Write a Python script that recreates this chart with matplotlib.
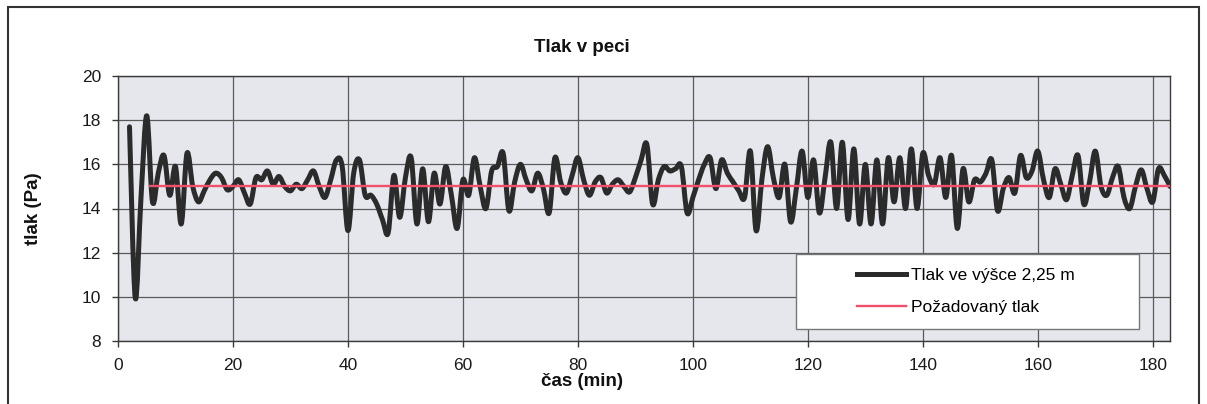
import numpy as np
import matplotlib
matplotlib.use("Agg")
import matplotlib.pyplot as plt
from matplotlib.path import Path
from matplotlib.patches import PathPatch, Rectangle
from matplotlib.lines import Line2D

# ---- data ----
time_min = list(range(2, 184))
pressure = [
    17.7, 9.95, 14.5, 18.2, 14.3, 15.6, 16.4, 14.6, 15.9, 13.3,          # 2-11
    16.5, 15.0, 14.3, 14.8, 15.3, 15.6, 15.4, 14.85, 15.0, 15.3,         # 12-21
    14.7, 14.2, 15.4, 15.3, 15.7, 15.1, 15.45, 15.0, 14.8, 15.1,         # 22-31
    14.9, 15.3, 15.7, 15.0, 14.5, 15.3, 16.2, 15.9, 13.0, 15.6,          # 32-41
    16.2, 14.6, 14.6, 14.2, 13.5, 12.9, 15.5, 13.6, 15.4, 16.3,          # 42-51
    13.3, 15.8, 13.4, 15.6, 14.2, 15.9, 14.6, 13.1, 15.3, 14.6,          # 52-61
    16.3, 15.0, 14.0, 15.7, 15.9, 16.5, 13.9, 15.2, 16.0, 15.3,          # 62-71
    14.8, 15.6, 14.9, 13.8, 16.3, 15.2, 14.7, 15.5, 16.3, 15.3,          # 72-81
    14.6, 15.2, 15.4, 14.7, 15.1, 15.3, 15.0, 14.75, 15.4, 16.2,         # 82-91
    16.9, 14.2, 15.3, 15.9, 15.7, 15.8, 15.9, 13.8, 14.5, 15.3,          # 92-101
    16.0, 16.3, 14.9, 16.2, 15.6, 15.2, 14.8, 14.5, 16.6, 13.0,          # 102-111
    15.3, 16.8, 15.4, 14.5, 16.0, 13.4, 14.9, 16.6, 14.5, 16.2,          # 112-121
    13.8, 15.4, 17.0, 14.0, 17.0, 13.5, 16.7, 13.3, 16.0, 13.3,          # 122-131
    16.2, 13.3, 16.3, 14.3, 16.3, 14.0, 16.7, 14.0, 16.5, 15.5,          # 132-141
    15.1, 16.3, 14.5, 16.4, 13.1, 15.8, 14.3, 15.3, 15.2, 15.6,          # 142-151
    16.2, 13.9, 14.9, 15.4, 14.7, 16.4, 15.4, 15.7, 16.6, 15.3,          # 152-161
    14.5, 15.8, 15.1, 14.4, 15.5, 16.4, 14.2, 15.2, 16.6, 15.0,          # 162-171
    14.6, 15.4, 15.9, 14.5, 14.0, 15.0, 15.75, 14.9, 14.3, 15.8,         # 172-181
    15.5, 15.0,                                                          # 182-183
]
setpoint_time = [5.5, 183]
setpoint_value = [15, 15]

series_labels = ["Tlak ve výšce 2,25 m", "Požadovaný tlak"]
title = "Tlak v peci"
xlabel = "čas (min)"
ylabel = "tlak (Pa)"
x_ticks = [0, 20, 40, 60, 80, 100, 120, 140, 160, 180]
y_ticks = [8, 10, 12, 14, 16, 18, 20]

# ---- style ----
plt.rcParams["font.family"] = ["Liberation Sans", "DejaVu Sans"]
black_col = "#2b2b2b"
red_col = "#f0506a"

fig = plt.figure(figsize=(12.07, 4.04), dpi=100)
fig.patch.set_facecolor("white")
W, H = 1207, 404
ax = fig.add_axes([118 / W, 1 - 341 / H, (1170 - 118) / W, (341 - 76) / H])
ax.set_facecolor("#e6e7ed")


def smooth_path(x, y):
    """Excel-like smoothed line as cubic Bezier segments (Catmull-Rom control points)."""
    pts = np.column_stack([np.asarray(x, float), np.asarray(y, float)])
    n = len(pts)
    verts = [pts[0]]
    codes = [Path.MOVETO]
    for i in range(n - 1):
        p0 = pts[i - 1] if i > 0 else pts[i]
        p1 = pts[i]
        p2 = pts[i + 1]
        p3 = pts[i + 2] if i + 2 < n else pts[i + 1]
        c1 = p1 + (p2 - p0) / 6.0
        c2 = p2 - (p3 - p1) / 6.0
        verts += [c1, c2, p2]
        codes += [Path.CURVE4] * 3
    return Path(verts, codes)


patch = PathPatch(smooth_path(time_min, pressure), facecolor="none",
                  edgecolor=black_col, lw=3.6, capstyle="round",
                  joinstyle="round", zorder=3)
ax.add_patch(patch)
ax.plot(setpoint_time, setpoint_value, color=red_col, lw=1.7, zorder=4)

ax.set_xlim(0, 183)
ax.set_ylim(8, 20)
ax.set_xticks(x_ticks)
ax.set_yticks(y_ticks)
ax.grid(True, color="#5a5a5a", lw=0.9)
ax.set_axisbelow(True)
for s in ax.spines.values():
    s.set_color("#3a3a3a")
    s.set_linewidth(1.0)
ax.tick_params(direction="out", length=4.5, width=1.0, color="#3a3a3a",
               labelsize=12.5, labelcolor="#1a1a1a", pad=7.5)

text_center = (582 - 118) / 1052
ax.set_title(title, fontsize=13.5, fontweight="bold", pad=17, color="#111111",
             x=text_center)
ax.set_xlabel(xlabel, fontsize=13.5, fontweight="bold", labelpad=0, color="#111111")
ax.xaxis.label.set_x(text_center)
ax.set_ylabel(ylabel, fontsize=13.5, fontweight="bold", labelpad=29, color="#111111")

# legend frame and entries
ax.add_patch(Rectangle(((796 - 118) / 1052, (341 - 329) / 265),
                       (1139 - 796) / 1052, (329 - 254) / 265,
                       transform=ax.transAxes, facecolor="white",
                       edgecolor="#777777", lw=1.0, zorder=5))
handles = [Line2D([], [], color=black_col, lw=3.6),
           Line2D([], [], color=red_col, lw=1.7)]
leg = ax.legend(handles, series_labels, loc="center left",
                bbox_to_anchor=((857 - 118) / 1052, (341 - 291.5) / 265),
                frameon=False, fontsize=12.5, handlelength=2.85,
                handletextpad=0.25, labelspacing=0.95, borderpad=0,
                borderaxespad=0)
leg.set_zorder(6)

# outer chart border
fig.add_artist(Rectangle((8 / W, -0.02), (1199 - 8) / W, (404 - 7) / H + 0.02,
                         transform=fig.transFigure, facecolor="none",
                         edgecolor="#333333", lw=1.5))

fig.savefig("out.png", dpi=100)
